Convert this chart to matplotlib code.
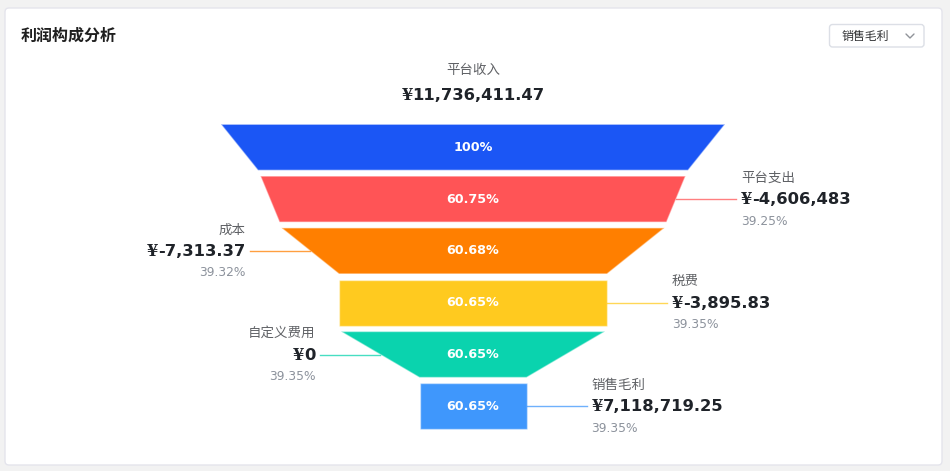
import matplotlib
matplotlib.use("Agg")
import matplotlib.pyplot as plt
from matplotlib.patches import Polygon, FancyBboxPatch

# ---------------- data ----------------
title = "利润构成分析"
selector_text = "销售毛利"
stages = ["平台收入", "平台支出", "成本", "税费", "自定义费用", "销售毛利"]
amounts = [11736411.47, -4606483, -7313.37, -3895.83, 0, 7118719.25]
funnel_pct = [100, 60.75, 60.68, 60.65, 60.65, 60.65]
share_pct = [None, 39.25, 39.32, 39.35, 39.35, 39.35]
label_side = ["top", "right", "left", "right", "left", "right"]

# ---------------- style / layout ----------------
colors = ["#1b56f5", "#ff5456", "#ff7f00", "#ffca1f", "#0ad3ae", "#3f97fc"]
top_w = [504, 425, 383, 268, 264, 107]   # outline widths (px), layout only
bot_w = [430, 387, 268, 268, 107, 107]
seg_h = 46.0
seg_gap = 5.8
funnel_top = 124.3
cx = 473.0
leader_len = 60
text_pad = 5
VAL_SIZE = 11.8

W, H = 950, 471
CJK = ["Noto Sans CJK SC", "DejaVu Sans"]


def fmt_money(v):
    s = f"{v:,.2f}"
    if s.endswith(".00"):
        s = s[:-3]
    return "¥" + s


fig = plt.figure(figsize=(W / 100, H / 100), dpi=100)
fig.patch.set_facecolor("#f2f2f2")
ax = fig.add_axes([0, 0, 1, 1])
ax.set_xlim(0, W)
ax.set_ylim(H, 0)
ax.axis("off")
renderer = fig.canvas.get_renderer()


def draw_money(x, y, s, ha):
    yen, rest = s[0], s[1:]
    t_yen = ax.text(0, y, yen, family="DejaVu Serif", fontweight="bold",
                    fontsize=VAL_SIZE, color="#1f2329", ha="left", va="center")
    t_rest = ax.text(0, y, rest, family="DejaVu Sans", fontweight="bold",
                     fontsize=VAL_SIZE, color="#1f2329", ha="left", va="center")
    wy = t_yen.get_window_extent(renderer).width
    wr = t_rest.get_window_extent(renderer).width
    gap = -0.5
    total = wy + gap + wr
    if ha == "left":
        start = x
    elif ha == "right":
        start = x - total
    else:
        start = x - total / 2
    t_yen.set_x(start)
    t_rest.set_x(start + wy + gap)


# card
card = FancyBboxPatch((5, 8), 937, 457, boxstyle="round,pad=0,rounding_size=4",
                      facecolor="white", edgecolor="#e4e4ec", lw=1)
ax.add_patch(card)

# title
ax.text(21, 36, title, family=CJK, fontsize=11.5, fontweight="bold",
        color="#1f1f1f", ha="left", va="center")

# selector
sel = FancyBboxPatch((829.5, 24.5), 94.5, 22.5, boxstyle="round,pad=0,rounding_size=3",
                     facecolor="white", edgecolor="#dcdfe6", lw=1)
ax.add_patch(sel)
ax.text(842, 36, selector_text, family=CJK, fontsize=8.6, color="#303133",
        ha="left", va="center")
ax.plot([906, 910, 914], [34, 38, 34], color="#909399", lw=1, solid_capstyle="round")

# funnel segments
for i, stage in enumerate(stages):
    top = funnel_top + i * (seg_h + seg_gap)
    bot = top + seg_h
    tw, bw = top_w[i], bot_w[i]
    poly = Polygon([(cx - tw / 2, top), (cx + tw / 2, top),
                    (cx + bw / 2, bot), (cx - bw / 2, bot)],
                   closed=True, facecolor=colors[i],
                   edgecolor=(1, 1, 1, 0.45), lw=1)
    ax.add_patch(poly)
    mid = (top + bot) / 2
    pct_txt = f"{funnel_pct[i]:g}%" if funnel_pct[i] == 100 else f"{funnel_pct[i]:.2f}%"
    ax.text(cx, mid, pct_txt, fontsize=9.2, fontweight="bold", color="white",
            ha="center", va="center", family="DejaVu Sans")

    side = label_side[i]
    if side == "top":
        ax.text(cx, 70, stage, family=CJK, fontsize=9.7, color="#606266",
                ha="center", va="center")
        draw_money(cx, 95, fmt_money(amounts[i]), "center")
        continue

    half_mid = (tw + bw) / 4
    if side == "right":
        x0 = cx + half_mid
        x1 = x0 + leader_len
        tx = x1 + text_pad
        ha = "left"
    else:
        x0 = cx - half_mid
        x1 = x0 - leader_len
        tx = x1 - text_pad
        ha = "right"
    ax.plot([x0, x1], [mid, mid], color=colors[i], alpha=0.75, lw=1)
    ax.text(tx, mid - 21.5, stage, family=CJK, fontsize=9.7, color="#606266",
            ha=ha, va="center")
    draw_money(tx, mid + 0.5, fmt_money(amounts[i]), ha)
    ax.text(tx, mid + 22, f"{share_pct[i]:.2f}%", family="DejaVu Sans",
            fontsize=8.8, color="#8c929c", ha=ha, va="center")

fig.savefig("out.png", dpi=100, facecolor=fig.get_facecolor())
